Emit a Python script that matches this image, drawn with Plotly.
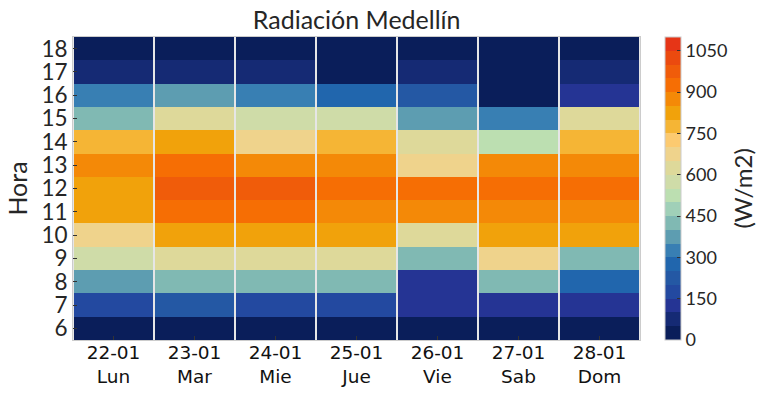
import plotly.graph_objects as go

fechas = ["22-01", "23-01", "24-01", "25-01", "26-01", "27-01", "28-01"]
dias = ["Lun", "Mar", "Mie", "Jue", "Vie", "Sab", "Dom"]
horas = [6, 7, 8, 9, 10, 11, 12, 13, 14, 15, 16, 17, 18]

# Radiación (W/m2) por hora (6..18) para cada día
lun = [20, 175, 375, 575, 675, 825, 825, 875, 775, 425, 325, 75, 20]
mar = [20, 225, 425, 625, 825, 925, 975, 925, 825, 625, 375, 75, 20]
mie = [20, 175, 425, 625, 825, 925, 975, 875, 675, 575, 325, 75, 20]
jue = [20, 175, 425, 625, 825, 875, 925, 875, 775, 575, 275, 20, 20]
vie = [20, 125, 125, 425, 625, 875, 925, 675, 625, 375, 225, 75, 20]
sab = [20, 125, 425, 675, 825, 875, 925, 875, 525, 325, 20, 20, 20]
dom = [20, 125, 275, 425, 825, 875, 925, 875, 775, 625, 125, 75, 20]

bin_colors = [
    "#0a1e5a", "#152a74", "#253494", "#2349a0", "#2458a4", "#2166ad",
    "#387fb3", "#5d9db1", "#80b9b3", "#a0d0b8", "#bcdfb1", "#cfdca8",
    "#ded99a", "#efd38c", "#fcca70", "#f5b535", "#f1a20b", "#f48907",
    "#f66e04", "#f05c0a", "#eb4a0f", "#e63517",
]
zmin, zmax = 0, 1100
cb_ticks = [0, 150, 300, 450, 600, 750, 900, 1050]

n = len(bin_colors)
colorscale = []
for i, c in enumerate(bin_colors):
    colorscale.append([i / n, c])
    colorscale.append([(i + 1) / n, c])

cols = [lun, mar, mie, jue, vie, sab, dom]
z = [[cols[d][h] for d in range(len(cols))] for h in range(len(horas))]
xlabels = [f"{f}<br>{d}" for f, d in zip(fechas, dias)]

fig = go.Figure(go.Heatmap(
    z=z, x=xlabels, y=horas,
    colorscale=colorscale, zmin=zmin, zmax=zmax,
    xgap=2,
    colorbar=dict(
        thickness=16, len=1, lenmode="fraction", y=0.5, yanchor="middle",
        x=1, xanchor="left", xpad=25, ypad=0,
        outlinewidth=1, outlinecolor="#cccccc",
        tickvals=cb_ticks, ticks="inside", ticklen=4, tickcolor="#333",
        tickfont=dict(family="Lato", size=18, color="#262626"),
    ),
))

fig.update_layout(
    width=767, height=395,
    margin=dict(l=73, r=127, t=37, b=55, autoexpand=False),
    paper_bgcolor="white", plot_bgcolor="#e6e6e6",
    title=dict(text="Radiación Medellín", x=0.465, xanchor="center", y=0.95, yanchor="middle",
               font=dict(family="Lato", size=25, color="#262626")),
    annotations=[dict(text="(W/m2)", textangle=-90, xref="paper", yref="paper",
                      x=1.18, y=0.5, xanchor="center", yanchor="middle", showarrow=False,
                      font=dict(family="Lato", size=24, color="#262626"))],
)
fig.update_xaxes(
    type="category", showgrid=False, zeroline=False, automargin=False,
    showline=True, mirror=True, linecolor="#cccccc", linewidth=1,
    ticks="inside", ticklen=4, tickcolor="#333", ticklabelstandoff=-4,
    tickfont=dict(family="DejaVu Sans", size=18.5, color="#111"),
)
fig.update_yaxes(
    tickvals=horas, showgrid=False, zeroline=False, automargin=False,
    showline=True, mirror=True, linecolor="#cccccc", linewidth=1,
    ticks="inside", ticklen=4, tickcolor="#333",
    tickfont=dict(family="Lato", size=22.5, color="#262626"),
    title=dict(text="Hora", font=dict(family="Lato", size=25, color="#262626"), standoff=6),
)

fig.write_html("out.html", config={"displayModeBar": False},
               post_script="document.body.style.margin='0';")
